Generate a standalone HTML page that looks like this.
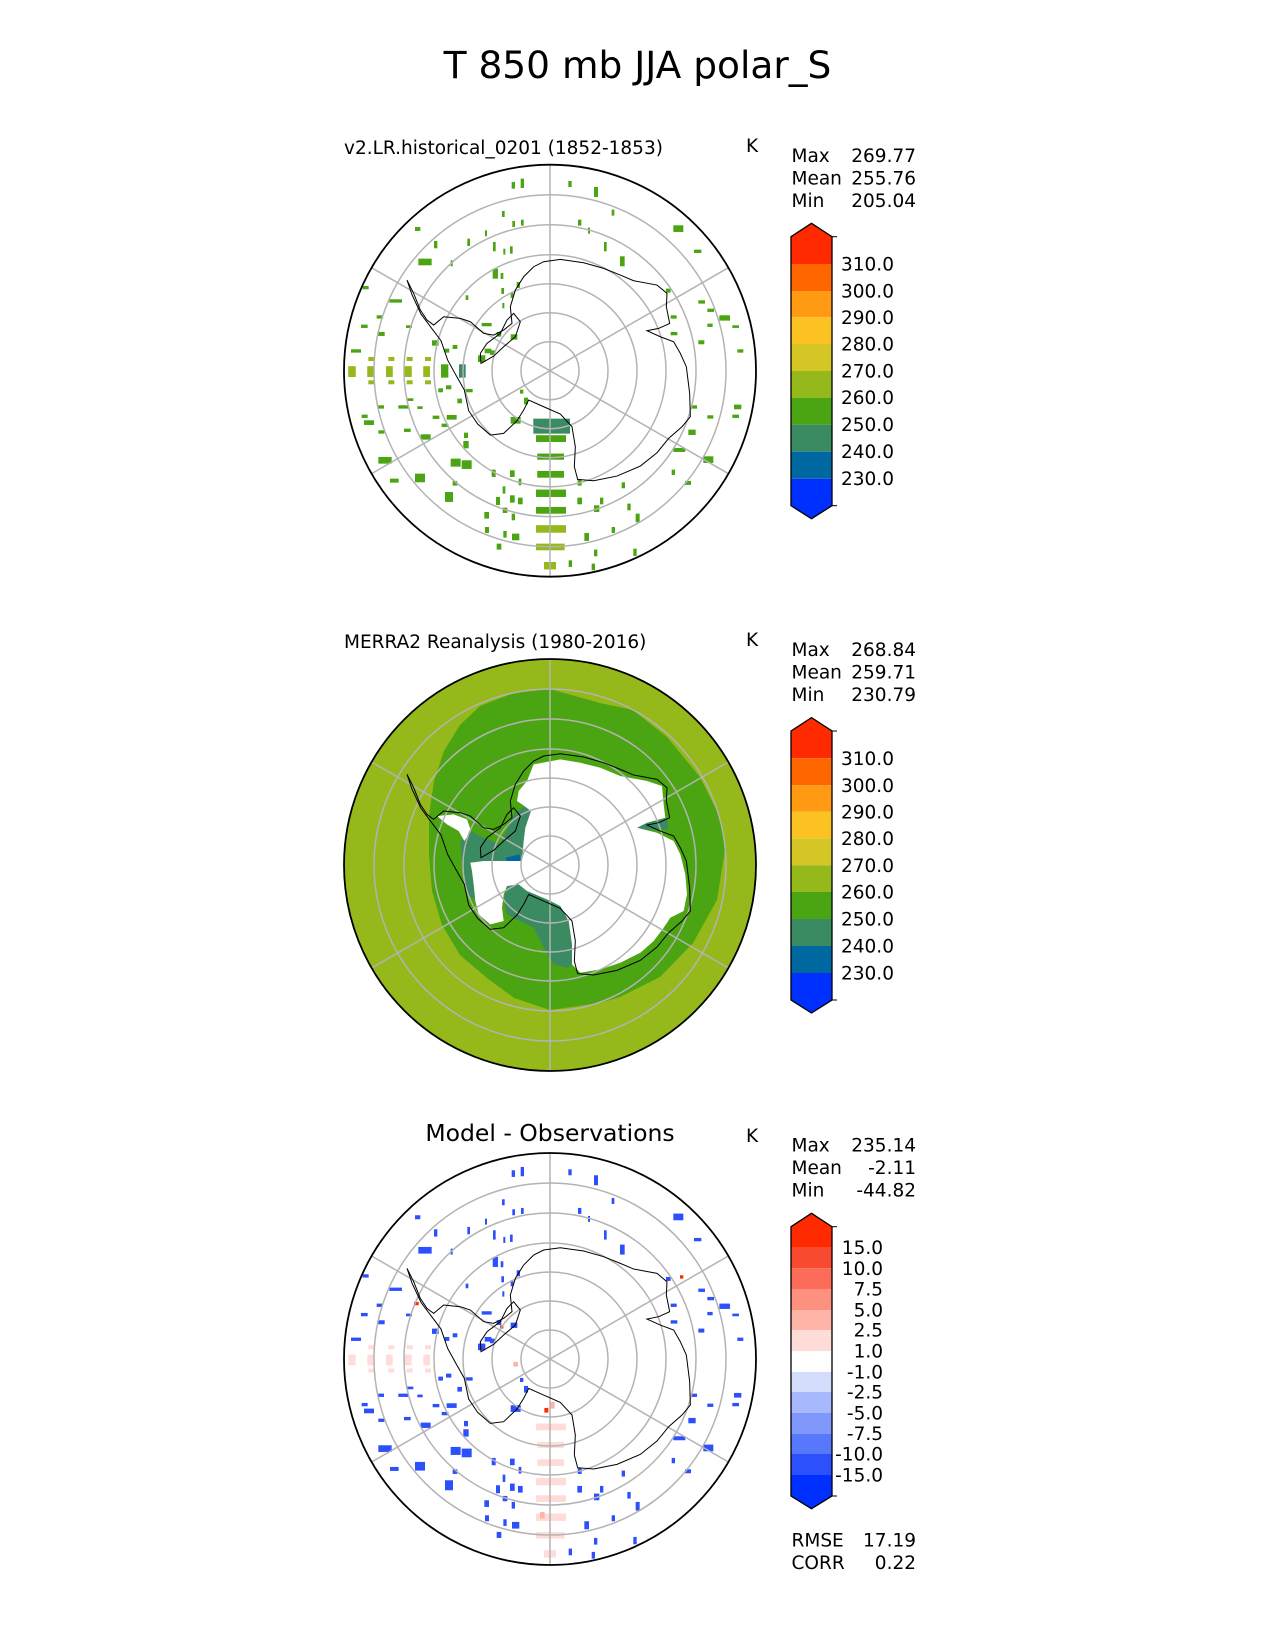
<!DOCTYPE html>
<html><head><meta charset="utf-8"><style>
html,body{margin:0;padding:0;background:#fff}
svg{display:block}
text{font-family:"DejaVu Sans","Liberation Sans",sans-serif;fill:#000}
</style></head><body>
<svg width="1275" height="1650" viewBox="0 0 1275 1650" xmlns="http://www.w3.org/2000/svg">
<defs>
<path id="coast" fill="none" stroke="#000" stroke-width="3" d="M240,440 L260,480 L280,530 L300,560 L320,575 L350,550 L400,555 L430,565 L470,600 L500,605 L530,590 L555,570 L550,520 L565,470 L590,430 L620,400 L650,385 L700,378 L770,388 L830,405 L880,425 L920,442 L990,455 L1020,480 L1018,520 L1028,570 L995,585 L960,592 L1000,610 L1040,625 L1060,660 L1078,700 L1088,780 L1090,850 L1065,880 L1025,915 L990,958 L940,998 L870,1028 L800,1042 L752,1038 L742,1000 L745,940 L735,880 L700,842 L650,820 L605,800 L590,830 L570,862 L530,900 L490,905 L452,872 L425,832 L412,770 L385,722 L362,680 L342,622 L312,582 L282,542 L255,484 Z M462,690 L500,668 L530,640 L565,610 L580,565 L560,540 L540,560 L520,600 L480,630 L460,660 Z"/>
<g id="grid" fill="none" stroke="#b3b3b3" stroke-width="1.5">
<circle r="29"/><circle r="58"/><circle r="87"/><circle r="116"/><circle r="146"/><circle r="176"/>
<line x1="0" y1="-206" x2="0" y2="206"/>
<line x1="-178.4" y1="-103" x2="178.4" y2="103"/>
<line x1="-178.4" y1="103" x2="178.4" y2="-103"/>
</g>
<g id="spk">
<rect x="25" y="618" width="22" height="32"/><rect x="82" y="618" width="20" height="32"/><rect x="138" y="618" width="20" height="32"/><rect x="193" y="618" width="22" height="32"/><rect x="250" y="618" width="20" height="32"/>
<rect x="85" y="590" width="18" height="12"/><rect x="145" y="590" width="18" height="12"/><rect x="200" y="590" width="18" height="12"/><rect x="255" y="590" width="18" height="12"/>
<rect x="85" y="660" width="18" height="12"/><rect x="145" y="660" width="18" height="12"/><rect x="200" y="660" width="18" height="12"/><rect x="255" y="660" width="18" height="12"/>
<rect x="588" y="825" width="90" height="20"/><rect x="592" y="880" width="80" height="18"/><rect x="592" y="932" width="80" height="20"/><rect x="588" y="988" width="90" height="22"/><rect x="588" y="1040" width="90" height="20"/><rect x="588" y="1095" width="90" height="22"/><rect x="588" y="1150" width="86" height="20"/><rect x="612" y="1205" width="36" height="22"/>
</g>
<g id="dots">
<rect x="515" y="65" width="10" height="20"/><rect x="542" y="55" width="10" height="28"/><rect x="685" y="62" width="10" height="18"/><rect x="762" y="80" width="12" height="30"/><rect x="815" y="148" width="8" height="18"/><rect x="486" y="152" width="8" height="18"/><rect x="517" y="182" width="8" height="18"/><rect x="543" y="178" width="8" height="18"/><rect x="714" y="178" width="10" height="18"/><rect x="744" y="202" width="6" height="18"/><rect x="792" y="245" width="8" height="28"/><rect x="840" y="288" width="14" height="30"/><rect x="1000" y="195" width="30" height="20"/><rect x="1062" y="268" width="22" height="10"/><rect x="225" y="200" width="16" height="12"/><rect x="282" y="242" width="10" height="22"/><rect x="382" y="235" width="8" height="22"/><rect x="435" y="210" width="6" height="18"/><rect x="459" y="245" width="8" height="28"/><rect x="490" y="265" width="6" height="18"/><rect x="510" y="258" width="8" height="22"/><rect x="235" y="295" width="40" height="20"/><rect x="332" y="300" width="6" height="18"/><rect x="458" y="325" width="16" height="30"/><rect x="482" y="338" width="8" height="18"/><rect x="530" y="365" width="10" height="18"/><rect x="377" y="405" width="8" height="14"/><rect x="484" y="383" width="8" height="18"/><rect x="512" y="395" width="8" height="18"/><rect x="487" y="428" width="6" height="16"/><rect x="68" y="377" width="18" height="10"/><rect x="148" y="417" width="38" height="10"/><rect x="110" y="465" width="18" height="10"/><rect x="63" y="493" width="20" height="10"/><rect x="198" y="495" width="18" height="8"/><rect x="112" y="515" width="22" height="12"/><rect x="33" y="567" width="30" height="10"/><rect x="425" y="488" width="30" height="10"/><rect x="470" y="515" width="14" height="14"/><rect x="512" y="522" width="20" height="16"/><rect x="978" y="385" width="14" height="12"/><rect x="992" y="465" width="18" height="10"/><rect x="1075" y="420" width="20" height="10"/><rect x="1102" y="445" width="20" height="10"/><rect x="1138" y="465" width="32" height="16"/><rect x="1177" y="495" width="20" height="8"/><rect x="1102" y="490" width="16" height="10"/><rect x="992" y="515" width="20" height="10"/><rect x="1075" y="540" width="18" height="12"/><rect x="1192" y="567" width="18" height="10"/><rect x="1055" y="735" width="16" height="10"/><rect x="1182" y="733" width="22" height="14"/><rect x="1102" y="765" width="18" height="10"/><rect x="1177" y="763" width="20" height="10"/><rect x="1045" y="808" width="22" height="16"/><rect x="1000" y="863" width="36" height="12"/><rect x="1090" y="888" width="30" height="20"/><rect x="995" y="928" width="10" height="16"/><rect x="1035" y="962" width="18" height="12"/><rect x="65" y="763" width="18" height="10"/><rect x="72" y="780" width="30" height="14"/><rect x="115" y="810" width="18" height="10"/><rect x="112" y="735" width="20" height="10"/><rect x="175" y="735" width="30" height="10"/><rect x="232" y="738" width="16" height="8"/><rect x="200" y="714" width="20" height="8"/><rect x="278" y="766" width="20" height="10"/><rect x="192" y="805" width="20" height="10"/><rect x="242" y="822" width="30" height="16"/><rect x="320" y="764" width="30" height="14"/><rect x="305" y="790" width="20" height="10"/><rect x="115" y="890" width="40" height="20"/><rect x="150" y="955" width="26" height="12"/><rect x="225" y="940" width="30" height="26"/><rect x="315" y="995" width="24" height="30"/><rect x="338" y="962" width="14" height="14"/><rect x="332" y="895" width="30" height="24"/><rect x="365" y="900" width="30" height="26"/><rect x="372" y="817" width="12" height="16"/><rect x="370" y="842" width="16" height="22"/><rect x="455" y="928" width="12" height="22"/><rect x="510" y="930" width="14" height="20"/><rect x="536" y="955" width="8" height="20"/><rect x="488" y="978" width="8" height="22"/><rect x="468" y="1010" width="12" height="24"/><rect x="510" y="1005" width="14" height="22"/><rect x="534" y="1012" width="14" height="20"/><rect x="488" y="1042" width="14" height="16"/><rect x="433" y="1055" width="14" height="20"/><rect x="515" y="1060" width="10" height="20"/><rect x="435" y="1100" width="12" height="18"/><rect x="490" y="1112" width="10" height="20"/><rect x="516" y="1120" width="22" height="20"/><rect x="470" y="1150" width="14" height="18"/><rect x="686" y="1200" width="10" height="20"/><rect x="755" y="1210" width="10" height="20"/><rect x="762" y="1168" width="10" height="20"/><rect x="733" y="1118" width="14" height="24"/><rect x="815" y="1100" width="10" height="18"/><rect x="880" y="1165" width="10" height="22"/><rect x="887" y="1060" width="12" height="26"/><rect x="862" y="1030" width="10" height="20"/><rect x="762" y="1035" width="16" height="20"/><rect x="780" y="1012" width="10" height="20"/><rect x="712" y="1012" width="14" height="20"/><rect x="713" y="958" width="12" height="18"/><rect x="845" y="966" width="10" height="18"/><rect x="512" y="770" width="30" height="20"/><rect x="552" y="712" width="12" height="20"/><rect x="540" y="688" width="10" height="12"/><rect x="378" y="686" width="20" height="10"/><rect x="318" y="675" width="16" height="12"/><rect x="352" y="715" width="14" height="14"/><rect x="295" y="684" width="14" height="12"/><rect x="276" y="540" width="20" height="16"/><rect x="338" y="554" width="14" height="12"/><rect x="314" y="565" width="14" height="12"/><rect x="434" y="565" width="20" height="14"/><rect x="414" y="585" width="22" height="20"/><rect x="450" y="570" width="14" height="14"/>
</g>
</defs>

<text x="637.5" y="78" font-size="37.5" text-anchor="middle">T 850 mb JJA polar_S</text>

<!-- ===== Panel 1 ===== -->
<text x="344" y="154" font-size="18.5">v2.LR.historical_0201 (1852-1853)</text>
<text x="746" y="152" font-size="18.5">K</text>
<g transform="translate(340,160.3) scale(0.33333)">
<use href="#spk" fill="#95b81a"/>
<rect x="303" y="612" width="22" height="40" fill="#4ba512"/><rect x="357" y="612" width="20" height="40" fill="#3a8a62"/>
<rect x="580" y="775" width="110" height="45" fill="#3a8a62"/>
<g fill="#4ba512"><rect x="588" y="825" width="90" height="20"/><rect x="592" y="880" width="80" height="18"/><rect x="592" y="932" width="80" height="20"/><rect x="588" y="988" width="90" height="22"/><rect x="588" y="1040" width="90" height="20"/></g>
<use href="#dots" fill="#4ba512"/>
<g fill="#95b81a"><rect x="25" y="618" width="22" height="32"/><rect x="82" y="618" width="20" height="32"/><rect x="138" y="618" width="20" height="32"/><rect x="193" y="618" width="22" height="32"/><rect x="250" y="618" width="20" height="32"/><rect x="588" y="1095" width="90" height="22"/><rect x="612" y="1205" width="36" height="22"/></g>
</g>
<g transform="translate(550,370.7)"><use href="#grid"/></g>
<use href="#coast" transform="translate(327,133.4) scale(0.33333)" stroke-width="2.1"/>
<circle cx="550" cy="370.7" r="206" fill="none" stroke="#000" stroke-width="1.8"/>

<text x="791.5" y="162" font-size="18.5">Max</text><text x="916" y="162" font-size="18.5" text-anchor="end">269.77</text>
<text x="791.5" y="184.5" font-size="18.5">Mean</text><text x="916" y="184.5" font-size="18.5" text-anchor="end">255.76</text>
<text x="791.5" y="207" font-size="18.5">Min</text><text x="916" y="207" font-size="18.5" text-anchor="end">205.04</text>

<g id="cb1">
<polygon points="791,236.7 811.5,223.3 832,236.7 832,264 791,264" fill="#ff2a00"/>
<rect x="791" y="264" width="41" height="27" fill="#ff6600"/>
<rect x="791" y="291" width="41" height="26.3" fill="#ff9a12"/>
<rect x="791" y="317.3" width="41" height="26.7" fill="#fcc222"/>
<rect x="791" y="344" width="41" height="27" fill="#d4c624"/>
<rect x="791" y="371" width="41" height="26.7" fill="#95b81a"/>
<rect x="791" y="397.7" width="41" height="27" fill="#4ba512"/>
<rect x="791" y="424.7" width="41" height="27" fill="#3a8a62"/>
<rect x="791" y="451.7" width="41" height="27" fill="#0068a0"/>
<polygon points="791,478.7 832,478.7 832,505.7 811.5,518.7 791,505.7" fill="#0030ff"/>
<polygon points="791,236.7 811.5,223.3 832,236.7 832,505.7 811.5,518.7 791,505.7" fill="none" stroke="#000" stroke-width="1.3"/>
<line x1="832" y1="236.7" x2="837" y2="236.7" stroke="#000"/><line x1="832" y1="505.7" x2="837" y2="505.7" stroke="#000"/>
<g font-size="18.5">
<text x="841" y="270.5">310.0</text><text x="841" y="297.5">300.0</text><text x="841" y="324">290.0</text><text x="841" y="350.5">280.0</text><text x="841" y="377.5">270.0</text><text x="841" y="404">260.0</text><text x="841" y="431">250.0</text><text x="841" y="458">240.0</text><text x="841" y="485">230.0</text>
</g>
</g>

<!-- ===== Panel 2 ===== -->
<text x="344" y="648" font-size="18.5">MERRA2 Reanalysis (1980-2016)</text>
<text x="746" y="646" font-size="18.5">K</text>
<circle cx="550" cy="865" r="206" fill="#95b81a"/>
<path fill="#4ba512" d="M550,689 L514,693 L480,706 L460,725 L444,751 L434,781 L429,815 L429,855 L432,891 L442,925 L460,955 L487,978 L514,998 L550,1010 L600,1003 L620,997 L660,977 L693,943 L717,900 L725,850 L720,817 L700,777 L667,737 L633,710 L600,703 Z"/>
<g transform="translate(327,627.7) scale(0.33333)">
<path fill="#3a8a62" d="M400,640 L430,610 L470,630 L520,650 L560,560 L600,530 L612,550 L595,600 L585,700 L540,700 L430,705 L440,770 L450,820 L420,800 L410,760 L405,700 Z"/>
<path fill="#3a8a62" d="M540,770 L580,760 L640,800 L700,830 L725,880 L735,950 L735,1010 L720,1020 L680,1010 L650,960 L620,900 L580,880 L540,860 L530,820 Z"/>
<path fill="#3a8a62" d="M925,592 L1020,572 L1025,605 L940,608 Z"/>
<path fill="#fff" d="M620,410 L700,395 L760,405 L820,420 L880,445 L960,460 L1005,475 L1010,530 L1015,570 L960,585 L930,600 L990,615 L1040,640 L1060,680 L1075,740 L1080,800 L1070,850 L1030,870 L1010,900 L980,940 L940,975 L880,1005 L820,1025 L760,1035 L735,1010 L735,950 L725,880 L700,835 L660,815 L600,790 L575,770 L540,775 L530,800 L525,840 L530,880 L490,890 L455,860 L445,820 L440,770 L435,730 L430,705 L470,700 L540,700 L585,700 L590,640 L595,600 L612,550 L585,530 L570,520 L575,490 L600,460 Z"/>
<path fill="#fff" d="M330,565 L380,560 L420,575 L432,610 L412,640 L395,610 L360,590 Z"/>
<path fill="#0068a0" d="M535,690 L578,680 L582,700 L540,700 Z"/>
</g>
<g transform="translate(550,865)"><use href="#grid"/></g>
<use href="#coast" transform="translate(327,627.7) scale(0.33333)" stroke-width="2.1"/>
<circle cx="550" cy="865" r="206" fill="none" stroke="#000" stroke-width="1.8"/>

<text x="791.5" y="656" font-size="18.5">Max</text><text x="916" y="656" font-size="18.5" text-anchor="end">268.84</text>
<text x="791.5" y="678.5" font-size="18.5">Mean</text><text x="916" y="678.5" font-size="18.5" text-anchor="end">259.71</text>
<text x="791.5" y="701" font-size="18.5">Min</text><text x="916" y="701" font-size="18.5" text-anchor="end">230.79</text>
<use href="#cb1" transform="translate(0,494.3)"/>

<!-- ===== Panel 3 ===== -->
<text x="550" y="1141" font-size="23.5" text-anchor="middle">Model - Observations</text>
<text x="746" y="1142" font-size="18.5">K</text>
<g transform="translate(340,1148.6) scale(0.33333)">
<use href="#spk" fill="#ffdcd8"/>
<use href="#dots" fill="#2c50fc"/>
<g fill="#ffb4a8"><rect x="520" y="640" width="14" height="14"/><rect x="630" y="760" width="14" height="20"/><rect x="600" y="1090" width="14" height="20"/></g>
<g fill="#ff2a00"><rect x="613" y="778" width="12" height="14"/><rect x="222" y="460" width="14" height="10"/><rect x="1020" y="380" width="10" height="10"/><rect x="480" y="530" width="10" height="10"/></g>
</g>
<g transform="translate(550,1359)"><use href="#grid"/></g>
<use href="#coast" transform="translate(327,1121.7) scale(0.33333)" stroke-width="2.1"/>
<circle cx="550" cy="1359" r="206" fill="none" stroke="#000" stroke-width="1.8"/>

<text x="791.5" y="1151.7" font-size="18.5">Max</text><text x="916" y="1151.7" font-size="18.5" text-anchor="end">235.14</text>
<text x="791.5" y="1174" font-size="18.5">Mean</text><text x="916" y="1174" font-size="18.5" text-anchor="end">-2.11</text>
<text x="791.5" y="1196.7" font-size="18.5">Min</text><text x="916" y="1196.7" font-size="18.5" text-anchor="end">-44.82</text>

<polygon points="791,1226.7 811.5,1213.3 832,1226.7 832,1247.7 791,1247.7" fill="#ff2a00"/>
<rect x="791" y="1247.7" width="41" height="20.6" fill="#f84a30"/>
<rect x="791" y="1268.3" width="41" height="20.7" fill="#fc6c58"/>
<rect x="791" y="1289" width="41" height="21" fill="#fe9080"/>
<rect x="791" y="1310" width="41" height="20" fill="#ffb4a8"/>
<rect x="791" y="1330" width="41" height="21" fill="#ffdcd8"/>
<rect x="791" y="1351" width="41" height="21" fill="#fefefe"/>
<rect x="791" y="1372" width="41" height="20" fill="#d4dcfc"/>
<rect x="791" y="1392" width="41" height="21" fill="#a8b8fc"/>
<rect x="791" y="1413" width="41" height="20.7" fill="#8098fc"/>
<rect x="791" y="1433.7" width="41" height="20.3" fill="#5878fc"/>
<rect x="791" y="1454" width="41" height="21" fill="#2c50fc"/>
<polygon points="791,1475 832,1475 832,1496 811.5,1508.7 791,1496" fill="#0030ff"/>
<polygon points="791,1226.7 811.5,1213.3 832,1226.7 832,1496 811.5,1508.7 791,1496" fill="none" stroke="#000" stroke-width="1.3"/>
<line x1="832" y1="1226.7" x2="837" y2="1226.7" stroke="#000"/><line x1="832" y1="1496" x2="837" y2="1496" stroke="#000"/>
<g font-size="18.5" text-anchor="end">
<text x="883" y="1254">15.0</text><text x="883" y="1274.8">10.0</text><text x="883" y="1295.5">7.5</text><text x="883" y="1316.5">5.0</text><text x="883" y="1336.5">2.5</text><text x="883" y="1357.5">1.0</text><text x="883" y="1378.5">-1.0</text><text x="883" y="1398.5">-2.5</text><text x="883" y="1419.5">-5.0</text><text x="883" y="1440.2">-7.5</text><text x="883" y="1460.5">-10.0</text><text x="883" y="1481.5">-15.0</text>
</g>
<text x="791.5" y="1546.7" font-size="18.5">RMSE</text><text x="916" y="1546.7" font-size="18.5" text-anchor="end">17.19</text>
<text x="791.5" y="1569" font-size="18.5">CORR</text><text x="916" y="1569" font-size="18.5" text-anchor="end">0.22</text>
</svg>
</body></html>
